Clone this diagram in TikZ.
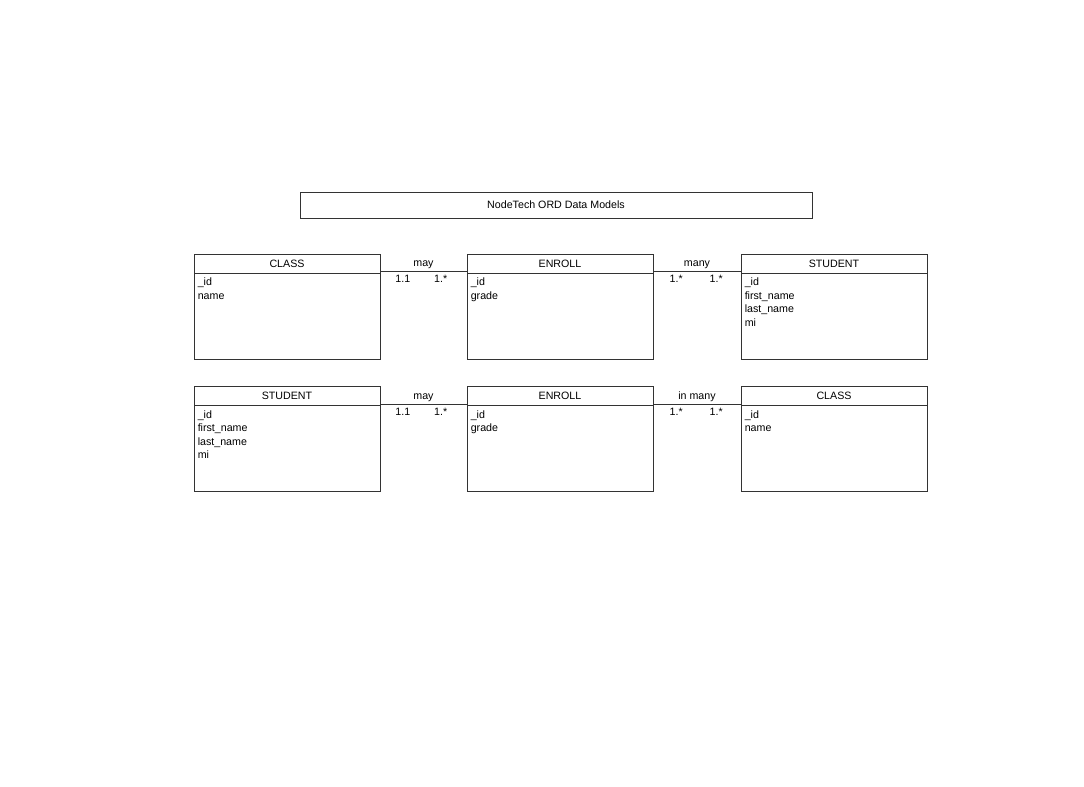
\documentclass[tikz,border=0pt]{standalone}
\usepackage{fontspec}
\setmainfont{Liberation Sans}
\usepackage{tikz}
\usetikzlibrary{calc,positioning}

\tikzset{
  tbl/.style={draw=black!80, line width=.75pt, minimum width=139.5pt, minimum height=78.75pt, inner sep=0pt},
  hdr/.style={draw=black!80, line width=.75pt, anchor=north, minimum width=139.5pt, minimum height=14.25pt, inner sep=0pt},
  attr/.style={anchor=north west, align=left, inner xsep=3pt, inner ysep=3pt},
  rel/.style={draw=black!80, line width=.75pt},
  card/.style={below, inner sep=2.5pt}
}

\begin{document}
\begin{tikzpicture}[x=0.75pt,y=-0.75pt,font=\fontsize{8pt}{10.2pt}\selectfont]
            \useasboundingbox (0,0) rectangle (1084,786);
            % title
            \node[draw=black!80, line width=.75pt, minimum width=384pt, minimum height=19.5pt] (title) at (556,205) {NodeTech ORD Data Models};
            % first row
            \node[tbl] (class1) at (287,306.5) {};
            \node[hdr] (class1h) at (class1.north) {CLASS};
            \node[attr] at (class1h.south west) {\_id\\name};
            \node[tbl] (enroll1) at (560,306.5) {};
            \node[hdr] (enroll1h) at (enroll1.north) {ENROLL};
            \node[attr] at (enroll1h.south west) {\_id\\grade};
            \node[tbl] (student1) at (834,306.5) {};
            \node[hdr] (student1h) at (student1.north) {STUDENT};
            \node[attr] at (student1h.south west) {\_id\\first\_name\\last\_name\\mi};
            \draw[rel] ([yshift=1.5pt]class1h.south east) -- node[above, inner sep=1.5pt] {may}
                node[card, pos=.26] {1.1} node[card, pos=.7] {1.*} ([yshift=1.5pt]enroll1h.south west);
            \draw[rel] ([yshift=1.5pt]enroll1h.south east) -- node[above, inner sep=1.5pt] {many}
                node[card, pos=.26] {1.*} node[card, pos=.72] {1.*} ([yshift=1.5pt]student1h.south west);
            % second row
            \node[tbl] (student2) at (287,439) {};
            \node[hdr] (student2h) at (student2.north) {STUDENT};
            \node[attr] at (student2h.south west) {\_id\\first\_name\\last\_name\\mi};
            \node[tbl] (enroll2) at (560,439) {};
            \node[hdr] (enroll2h) at (enroll2.north) {ENROLL};
            \node[attr] at (enroll2h.south west) {\_id\\grade};
            \node[tbl] (class2) at (834,439) {};
            \node[hdr] (class2h) at (class2.north) {CLASS};
            \node[attr] at (class2h.south west) {\_id\\name};
            \draw[rel] ([yshift=1.5pt]student2h.south east) -- node[above, inner sep=1.5pt] {may}
                node[card, pos=.26] {1.1} node[card, pos=.7] {1.*} ([yshift=1.5pt]enroll2h.south west);
            \draw[rel] ([yshift=1.5pt]enroll2h.south east) -- node[above, inner sep=1.5pt] {in many}
                node[card, pos=.26] {1.*} node[card, pos=.72] {1.*} ([yshift=1.5pt]class2h.south west);
        \end{tikzpicture}
\end{document}
